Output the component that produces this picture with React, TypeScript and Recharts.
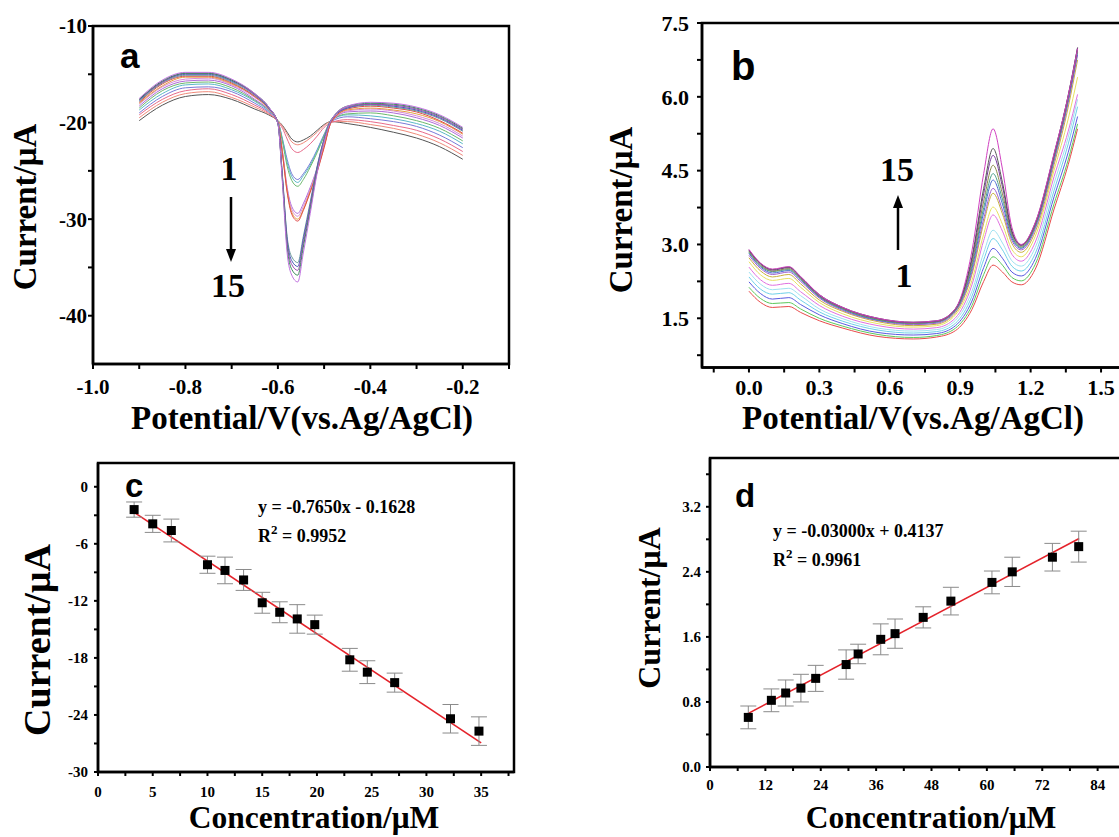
import React from 'react';
import { LineChart, Line, XAxis, YAxis, ReferenceArea, ComposedChart, Scatter, ErrorBar } from 'recharts';

const SERIF = '"Liberation Serif", "Times New Roman", serif';
const SANS = '"Liberation Sans", Arial, sans-serif';
const CW = 1200;
const CH = 837;

// ---------- Panel a : potentials and 15 curves ----------
const A_X = [-0.9, -0.85, -0.8, -0.75, -0.7, -0.65, -0.62, -0.6, -0.59, -0.58, -0.57, -0.557, -0.545, -0.53, -0.515, -0.5, -0.485, -0.45, -0.4, -0.35, -0.3, -0.25, -0.2];
const A1 = [-19.8, -18.2, -17.3, -17.1, -17.6, -18.6, -19.2, -19.8, -20.3, -21.0, -21.7, -22.0, -21.8, -21.4, -20.8, -20.2, -19.9, -20.1, -20.5, -21.0, -21.6, -22.5, -23.8];
const A2 = [-19.5, -17.9, -17.0, -16.8, -17.4, -18.4, -19.1, -19.8, -20.4, -21.2, -22.0, -22.3, -22.1, -21.6, -21.0, -20.3, -19.9, -19.9, -20.2, -20.6, -21.2, -22.1, -23.4];
const A3 = [-19.2, -17.6, -16.7, -16.5, -17.1, -18.2, -19.0, -19.9, -20.6, -21.7, -22.7, -23.1, -22.8, -22.2, -21.4, -20.5, -20.0, -19.7, -19.9, -20.3, -20.8, -21.7, -23.0];
const A4 = [-19.0, -17.3, -16.4, -16.3, -16.8, -18.0, -18.9, -19.9, -21.7, -23.8, -25.3, -25.9, -25.3, -24.2, -22.8, -21.2, -19.9, -19.4, -19.6, -19.9, -20.4, -21.3, -22.6];
const A5 = [-18.7, -17.0, -16.1, -16.0, -16.6, -17.8, -18.8, -19.9, -21.8, -24.1, -25.6, -26.2, -25.5, -24.4, -22.9, -21.3, -19.8, -19.2, -19.3, -19.6, -20.1, -20.9, -22.2];
const A6 = [-18.5, -16.7, -15.9, -15.8, -16.4, -17.7, -18.7, -19.9, -22.0, -24.5, -26.0, -26.6, -25.9, -24.6, -23.1, -21.4, -19.8, -19.1, -19.0, -19.3, -19.8, -20.6, -21.9];
const A7 = [-18.3, -16.5, -15.7, -15.6, -16.2, -17.6, -18.7, -20.0, -23.0, -26.7, -28.7, -29.4, -28.4, -26.7, -24.7, -22.3, -20.0, -18.9, -18.8, -19.0, -19.5, -20.3, -21.6];
const A8 = [-18.1, -16.3, -15.5, -15.4, -16.1, -17.4, -18.6, -20.0, -23.1, -26.9, -29.0, -29.7, -28.7, -26.9, -24.8, -22.4, -20.0, -18.8, -18.6, -18.8, -19.3, -20.1, -21.4];
const A9 = [-18.0, -16.2, -15.3, -15.3, -16.0, -17.3, -18.6, -20.0, -23.2, -27.1, -29.3, -30.0, -29.0, -27.1, -25.0, -22.5, -20.0, -18.7, -18.5, -18.7, -19.1, -19.9, -21.2];
const A10 = [-17.9, -16.0, -15.2, -15.2, -15.9, -17.3, -18.5, -20.0, -23.3, -27.2, -29.5, -30.2, -29.1, -27.2, -25.1, -22.6, -20.0, -18.6, -18.3, -18.5, -18.9, -19.8, -21.1];
const A11 = [-17.8, -15.9, -15.1, -15.1, -15.8, -17.2, -18.5, -20.0, -25.6, -31.8, -33.9, -34.5, -31.8, -28.2, -24.5, -21.7, -19.7, -18.5, -18.2, -18.4, -18.8, -19.6, -20.9];
const A12 = [-17.7, -15.8, -15.0, -15.0, -15.7, -17.1, -18.5, -20.1, -25.7, -32.1, -34.3, -34.9, -32.1, -28.5, -24.6, -21.7, -19.8, -18.5, -18.1, -18.3, -18.7, -19.5, -20.8];
const A13 = [-17.6, -15.8, -14.9, -14.9, -15.6, -17.1, -18.4, -20.1, -25.9, -32.5, -34.7, -35.3, -32.5, -28.7, -24.8, -21.8, -19.8, -18.4, -18.1, -18.2, -18.6, -19.4, -20.7];
const A14 = [-17.6, -15.7, -14.9, -14.9, -15.6, -17.0, -18.4, -20.1, -26.1, -32.9, -35.2, -35.8, -32.9, -29.0, -25.0, -21.9, -19.8, -18.3, -18.0, -18.1, -18.5, -19.3, -20.6];
const A15 = [-17.5, -15.6, -14.8, -14.8, -15.5, -17.0, -18.4, -20.1, -26.4, -33.5, -35.8, -36.5, -33.5, -29.4, -25.2, -22.0, -19.8, -18.3, -17.9, -18.0, -18.4, -19.2, -20.5];
const A_SERIES = [A1, A2, A3, A4, A5, A6, A7, A8, A9, A10, A11, A12, A13, A14, A15];
const A_COLORS = ['#555555', '#f08a7a', '#e86a8a', '#7a7ad8', '#5ab8c8', '#6cb86c', '#b06ad8', '#d98ad9', '#e3a040', '#e04a4a', '#6a9a9a', '#4a5ab8', '#9a4ab0', '#3a8a5a', '#c070e0'];
const A_XMAJOR = [-1.0, -0.8, -0.6, -0.4, -0.2];
const A_XMINOR = [-0.9, -0.7, -0.5, -0.3, -0.1];
const A_YMAJOR = [-40, -30, -20, -10];
const A_YMINOR = [-35, -25, -15];

// ---------- Panel b ----------
const B_X = [0, 0.05, 0.1, 0.17, 0.22, 0.3, 0.4, 0.55, 0.7, 0.8, 0.88, 0.95, 1.0, 1.04, 1.08, 1.12, 1.16, 1.22, 1.3, 1.36, 1.4];
const B1 = [2.05, 1.82, 1.72, 1.74, 1.62, 1.45, 1.30, 1.13, 1.08, 1.12, 1.25, 1.68, 2.25, 2.58, 2.44, 2.24, 2.18, 2.50, 3.72, 4.62, 5.35];
const B2 = [2.13, 1.90, 1.80, 1.82, 1.69, 1.50, 1.34, 1.17, 1.11, 1.15, 1.30, 1.76, 2.39, 2.75, 2.58, 2.33, 2.26, 2.60, 3.83, 4.72, 5.45];
const B3 = [2.24, 2.00, 1.89, 1.92, 1.78, 1.57, 1.39, 1.21, 1.16, 1.19, 1.35, 1.85, 2.53, 2.92, 2.72, 2.44, 2.36, 2.71, 3.97, 4.87, 5.60];
const B4 = [2.34, 2.09, 1.99, 2.02, 1.87, 1.63, 1.44, 1.26, 1.20, 1.23, 1.40, 1.95, 2.69, 3.12, 2.89, 2.56, 2.46, 2.82, 4.10, 5.04, 5.80];
const B5 = [2.44, 2.19, 2.08, 2.11, 1.96, 1.69, 1.49, 1.30, 1.24, 1.27, 1.46, 2.05, 2.83, 3.29, 3.03, 2.67, 2.56, 2.94, 4.24, 5.18, 5.95];
const B6 = [2.54, 2.28, 2.17, 2.21, 2.04, 1.76, 1.54, 1.35, 1.28, 1.31, 1.51, 2.18, 3.08, 3.60, 3.27, 2.80, 2.66, 3.05, 4.38, 5.30, 6.05];
const B7 = [2.65, 2.38, 2.27, 2.31, 2.13, 1.82, 1.59, 1.39, 1.32, 1.35, 1.57, 2.27, 3.21, 3.76, 3.41, 2.90, 2.75, 3.17, 4.51, 5.55, 6.40];
const B8 = [2.73, 2.46, 2.34, 2.39, 2.20, 1.87, 1.64, 1.43, 1.35, 1.38, 1.61, 2.39, 3.43, 4.04, 3.62, 3.02, 2.84, 3.26, 4.62, 5.79, 6.75];
const B9 = [2.78, 2.51, 2.39, 2.44, 2.25, 1.91, 1.66, 1.45, 1.37, 1.40, 1.64, 2.44, 3.52, 4.14, 3.70, 3.08, 2.89, 3.32, 4.69, 5.88, 6.85];
const B10 = [2.82, 2.54, 2.42, 2.47, 2.28, 1.93, 1.68, 1.46, 1.39, 1.42, 1.66, 2.51, 3.65, 4.31, 3.82, 3.13, 2.92, 3.36, 4.74, 5.93, 6.90];
const B11 = [2.84, 2.56, 2.45, 2.49, 2.30, 1.94, 1.69, 1.47, 1.40, 1.43, 1.67, 2.56, 3.75, 4.44, 3.92, 3.17, 2.94, 3.38, 4.77, 5.97, 6.95];
const B12 = [2.86, 2.58, 2.46, 2.51, 2.31, 1.95, 1.70, 1.48, 1.40, 1.43, 1.68, 2.62, 3.88, 4.61, 4.03, 3.21, 2.96, 3.40, 4.79, 5.98, 6.95];
const B13 = [2.88, 2.60, 2.48, 2.53, 2.33, 1.96, 1.71, 1.49, 1.41, 1.44, 1.69, 2.69, 4.03, 4.81, 4.17, 3.25, 2.98, 3.42, 4.82, 6.02, 7.00];
const B14 = [2.89, 2.61, 2.49, 2.54, 2.34, 1.98, 1.72, 1.50, 1.42, 1.45, 1.70, 2.74, 4.14, 4.95, 4.26, 3.28, 2.99, 3.44, 4.84, 6.03, 7.00];
const B15 = [2.90, 2.62, 2.50, 2.55, 2.35, 1.98, 1.72, 1.50, 1.42, 1.45, 1.70, 2.87, 4.44, 5.35, 4.53, 3.35, 3.00, 3.45, 4.85, 6.02, 6.98];
const B_SERIES = [B1, B2, B3, B4, B5, B6, B7, B8, B9, B10, B11, B12, B13, B14, B15];
const B_COLORS = ['#e84a4a', '#5cc85c', '#5a5ae0', '#6fd0e8', '#9fe0f0', '#e070e0', '#e8e060', '#c8b040', '#a060d0', '#4a6ad0', '#4aa08a', '#8a8a4a', '#7a3aa0', '#555555', '#d040c0'];
const B_XMAJOR = [0, 0.3, 0.6, 0.9, 1.2, 1.5];
const B_XMINOR = [-0.15, 0.15, 0.45, 0.75, 1.05, 1.35, 1.65];
const B_YMAJOR = [1.5, 3.0, 4.5, 6.0, 7.5];
const B_YMINOR = [0.75, 2.25, 3.75, 5.25, 6.75];

// ---------- Panel c ----------
const C_X = [3.3, 5.0, 6.7, 10.0, 11.6, 13.3, 15.0, 16.6, 18.2, 19.8, 23.0, 24.6, 27.1, 32.2, 34.8];
const C_Y = [-2.4, -3.9, -4.6, -8.2, -8.8, -9.8, -12.2, -13.2, -13.9, -14.5, -18.2, -19.5, -20.6, -24.4, -25.7];
const C_ERR = [0.8, 0.9, 1.2, 0.9, 1.4, 1.1, 1.1, 1.1, 1.5, 1.0, 1.2, 1.2, 1.0, 1.5, 1.5];
const C_FIT_X = [3.2, 35.0];
const C_FIT_Y = [-2.61, -26.94];
const C_XMAJOR = [0, 5, 10, 15, 20, 25, 30, 35];
const C_XMINOR = [2.5, 7.5, 12.5, 17.5, 22.5, 27.5, 32.5, 37.5];
const C_YMAJOR = [-30, -24, -18, -12, -6, 0];
const C_YMINOR = [-27, -21, -15, -9, -3];

// ---------- Panel d ----------
const D_X = [8.3, 13.3, 16.4, 19.7, 22.9, 29.5, 32.1, 37.0, 40.1, 46.2, 52.2, 61.1, 65.5, 74.2, 79.9];
const D_Y = [0.61, 0.82, 0.91, 0.97, 1.09, 1.26, 1.39, 1.57, 1.64, 1.84, 2.04, 2.27, 2.40, 2.58, 2.71];
const D_ERR = [0.14, 0.14, 0.16, 0.17, 0.16, 0.18, 0.12, 0.19, 0.18, 0.13, 0.17, 0.14, 0.18, 0.17, 0.19];
const D_FIT_X = [8.0, 80.0];
const D_FIT_Y = [0.65, 2.81];
const D_XMAJOR = [0, 12, 24, 36, 48, 60, 72, 84];
const D_XMINOR = [6, 18, 30, 42, 54, 66, 78, 90];
const D_YMAJOR = [0, 0.8, 1.6, 2.4, 3.2];
const D_YMINOR = [0.4, 1.2, 2.0, 2.8, 3.6];

const isIn = (v: number, arr: number[]) => arr.some((m) => Math.abs(m - v) < 1e-6);
const merge = (a: number[], b: number[]) => [...a, ...b].sort((p, q) => p - q);

const rowsOf = (xs: number[], series: number[][]) =>
  xs.map((x, i) => {
    const r: any = { x };
    series.forEach((s, k) => {
      r['s' + k] = s[i];
    });
    return r;
  });

const pointsOf = (xs: number[], ys: number[], es: number[]) => xs.map((x, i) => ({ x, y: ys[i], err: es[i] }));
const fitOf = (xs: number[], ys: number[]) => xs.map((x, i) => ({ x, y: ys[i] }));

const axisLine = { stroke: '#000', strokeWidth: 2.5 };
const tickLine = { stroke: '#000', strokeWidth: 2 };

function tickStyle(size: number) {
  return { fill: '#000', fontSize: size, fontWeight: 700, fontFamily: SERIF };
}

type Geo = { left: number; top: number; right: number; bottom: number };
function marginOf(g: Geo, yw: number, xh: number) {
  return { top: g.top, left: g.left - yw, right: CW - g.right, bottom: CH - g.bottom - xh };
}

function Spectra(props: any) {
  const { xs, series, colors, geo, xDom, yDom, xMajor, xMinor, yMajor, yMinor, fx, fy, font, tickSize, xm, ym } = props;
  const data = rowsOf(xs, series);
  return (
    <LineChart width={CW} height={CH} data={data} margin={marginOf(geo, 70, 50)}>
      <XAxis
        type="number"
        dataKey="x"
        domain={xDom}
        allowDataOverflow
        ticks={merge(xMajor, xMinor)}
        interval={0}
        tickFormatter={(v: number) => (isIn(v, xMajor) ? fx(v) : '')}
        tick={tickStyle(font)}
        tickLine={tickLine}
        axisLine={axisLine}
        tickSize={tickSize}
        tickMargin={xm}
        height={50}
      />
      <YAxis
        type="number"
        domain={yDom}
        allowDataOverflow
        ticks={merge(yMajor, yMinor)}
        interval={0}
        tickFormatter={(v: number) => (isIn(v, yMajor) ? fy(v) : '')}
        tick={tickStyle(font)}
        tickLine={tickLine}
        axisLine={axisLine}
        tickSize={tickSize}
        tickMargin={ym}
        width={70}
      />
      {series.map((_: number[], k: number) => (
        <Line
          key={k}
          dataKey={'s' + k}
          type="monotone"
          stroke={colors[k]}
          strokeWidth={1}
          dot={false}
          isAnimationActive={false}
        />
      ))}
      <ReferenceArea x1={xDom[0]} x2={xDom[1]} y1={yDom[0]} y2={yDom[1]} fill="none" stroke="#000" strokeWidth={2.5} fillOpacity={0} ifOverflow="visible" />
    </LineChart>
  );
}

function Calib(props: any) {
  const { pts, fit, geo, xDom, yDom, xMajor, xMinor, yMajor, yMinor, fx, fy, font, tickSize, xm, ym } = props;
  return (
    <ComposedChart width={CW} height={CH} margin={marginOf(geo, 70, 50)}>
      <XAxis
        type="number"
        dataKey="x"
        domain={xDom}
        allowDataOverflow
        ticks={merge(xMajor, xMinor)}
        interval={0}
        tickFormatter={(v: number) => (isIn(v, xMajor) ? fx(v) : '')}
        tick={tickStyle(font)}
        tickLine={tickLine}
        axisLine={axisLine}
        tickSize={tickSize}
        tickMargin={xm}
        height={50}
      />
      <YAxis
        type="number"
        dataKey="y"
        domain={yDom}
        allowDataOverflow
        ticks={merge(yMajor, yMinor)}
        interval={0}
        tickFormatter={(v: number) => (isIn(v, yMajor) ? fy(v) : '')}
        tick={tickStyle(font)}
        tickLine={tickLine}
        axisLine={axisLine}
        tickSize={tickSize}
        tickMargin={ym}
        width={70}
      />
      <Line data={fit} dataKey="y" type="linear" stroke="#e4232b" strokeWidth={1.6} dot={false} isAnimationActive={false} />
      <Scatter
        data={pts}
        dataKey="y"
        isAnimationActive={false}
        fill="#000"
        shape={(p: any) => <rect x={p.cx - 4.5} y={p.cy - 4.5} width={9} height={9} fill="#000" />}
      >
        <ErrorBar dataKey="err" direction="y" width={8} stroke="#8a8a8a" strokeWidth={1} />
      </Scatter>
      <ReferenceArea x1={xDom[0]} x2={xDom[1]} y1={yDom[0]} y2={yDom[1]} fill="none" stroke="#000" strokeWidth={2.5} fillOpacity={0} ifOverflow="visible" />
    </ComposedChart>
  );
}

const abs: React.CSSProperties = { position: 'absolute', left: 0, top: 0 };

export default function App() {
  const f1 = (v: number) => v.toFixed(1);
  const f0 = (v: number) => String(v);
  const T = { fontFamily: SERIF, fontWeight: 700, fill: '#000' } as any;
  const L = { fontFamily: SANS, fontWeight: 700, fill: '#000' } as any;
  return (
    <div style={{ position: 'fixed', left: 0, top: 0, width: 1119, height: 837, overflow: 'hidden', background: '#fff' }}>
      <div style={abs}>
        <Spectra
          xs={A_X}
          series={A_SERIES}
          colors={A_COLORS}
          geo={{ left: 93, top: 26, right: 509, bottom: 364 }}
          xDom={[-1.0, -0.1]}
          yDom={[-45, -10]}
          xMajor={A_XMAJOR}
          xMinor={A_XMINOR}
          yMajor={A_YMAJOR}
          yMinor={A_YMINOR}
          fx={f1}
          fy={f0}
          font={21}
          tickSize={5}
          xm={10}
          ym={1}
        />
      </div>
      <div style={abs}>
        <Spectra
          xs={B_X}
          series={B_SERIES}
          colors={B_COLORS}
          geo={{ left: 702, top: 23, right: 1148, bottom: 367.5 }}
          xDom={[-0.2, 1.7]}
          yDom={[0.5, 7.5]}
          xMajor={B_XMAJOR}
          xMinor={B_XMINOR}
          yMajor={B_YMAJOR}
          yMinor={B_YMINOR}
          fx={f1}
          fy={f1}
          font={22}
          tickSize={5}
          xm={7}
          ym={8}
        />
      </div>
      <div style={abs}>
        <Calib
          pts={pointsOf(C_X, C_Y, C_ERR)}
          fit={fitOf(C_FIT_X, C_FIT_Y)}
          geo={{ left: 98, top: 463, right: 514, bottom: 772 }}
          xDom={[0, 38]}
          yDom={[-30, 2.5]}
          xMajor={C_XMAJOR}
          xMinor={C_XMINOR}
          yMajor={C_YMAJOR}
          yMinor={C_YMINOR}
          fx={f0}
          fy={f0}
          font={15}
          tickSize={4}
          xm={10}
          ym={6}
        />
      </div>
      <div style={abs}>
        <Calib
          pts={pointsOf(D_X, D_Y, D_ERR)}
          fit={fitOf(D_FIT_X, D_FIT_Y)}
          geo={{ left: 710, top: 458, right: 1153, bottom: 767 }}
          xDom={[0, 96]}
          yDom={[0, 3.8]}
          xMajor={D_XMAJOR}
          xMinor={D_XMINOR}
          yMajor={D_YMAJOR}
          yMinor={D_YMINOR}
          fx={f0}
          fy={f1}
          font={15}
          tickSize={4}
          xm={8}
          ym={5}
        />
      </div>
      <svg width={1119} height={837} style={{ ...abs, pointerEvents: 'none' }}>
        {/* panel letters */}
        <text x={120} y={68} fontSize={35} {...L}>a</text>
        <text x={731} y={80} fontSize={40} {...L}>b</text>
        <text x={125} y={497} fontSize={33} {...L}>c</text>
        <text x={735} y={507} fontSize={33} {...L}>d</text>

        {/* panel a annotation */}
        <text x={229} y={180} fontSize={34} textAnchor="middle" {...T}>1</text>
        <line x1={231} y1={197} x2={231} y2={252} stroke="#000" strokeWidth={2.5} />
        <polygon points="226,249 236,249 231,262" fill="#000" />
        <text x={228} y={297} fontSize={34} textAnchor="middle" {...T}>15</text>

        {/* panel b annotation */}
        <text x={897} y={181} fontSize={34} textAnchor="middle" {...T}>15</text>
        <line x1={898} y1={250} x2={898} y2={204} stroke="#000" strokeWidth={2.5} />
        <polygon points="893,208 903,208 898,195" fill="#000" />
        <text x={904} y={287} fontSize={34} textAnchor="middle" {...T}>1</text>

        {/* axis titles */}
        <text x={302} y={429} fontSize={33} textAnchor="middle" {...T}>Potential/V(vs.Ag/AgCl)</text>
        <text x={913} y={429} fontSize={33} textAnchor="middle" {...T}>Potential/V(vs.Ag/AgCl)</text>
        <text x={314} y={828} fontSize={31.5} textAnchor="middle" {...T}>Concentration/μM</text>
        <text x={931} y={828} fontSize={31.5} textAnchor="middle" {...T}>Concentration/μM</text>
        <text x={36} y={207} fontSize={33} textAnchor="middle" transform="rotate(-90 36 207)" {...T}>Current/μA</text>
        <text x={632} y={210} fontSize={33} textAnchor="middle" transform="rotate(-90 632 210)" {...T}>Current/μA</text>
        <text x={50} y={640} fontSize={38} textAnchor="middle" transform="rotate(-90 50 640)" {...T}>Current/μA</text>
        <text x={660} y={608} fontSize={32} textAnchor="middle" transform="rotate(-90 660 608)" {...T}>Current/μA</text>

        {/* equations */}
        <text x={258} y={513} fontSize={18} {...T}>y = -0.7650x - 0.1628</text>
        <text x={258} y={542} fontSize={18} {...T}>
          R<tspan dy={-8} fontSize={13}>2</tspan>
          <tspan dy={8}> = 0.9952</tspan>
        </text>
        <text x={773} y={537} fontSize={18} {...T}>y = -0.03000x + 0.4137</text>
        <text x={773} y={566} fontSize={18} {...T}>
          R<tspan dy={-8} fontSize={13}>2</tspan>
          <tspan dy={8}> = 0.9961</tspan>
        </text>
      </svg>
    </div>
  );
}
